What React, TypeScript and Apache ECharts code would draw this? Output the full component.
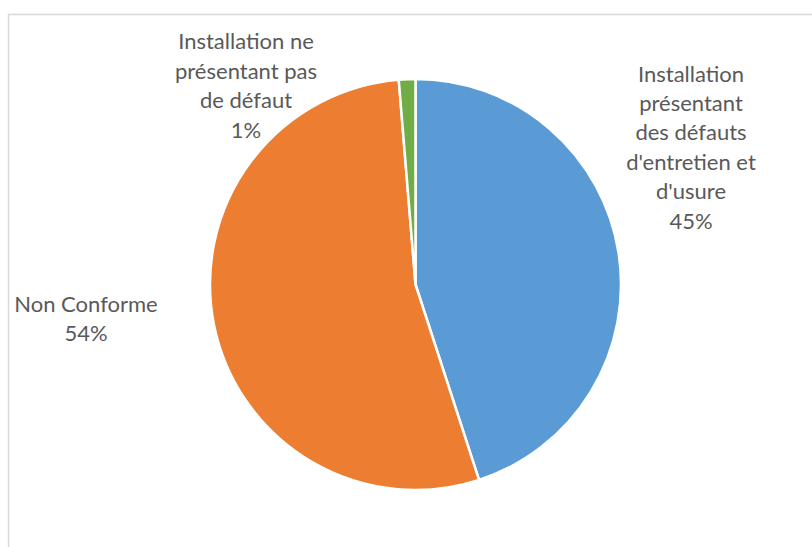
import React, { useEffect, useRef } from "react";
import * as echarts from "echarts";

const categories = [
  "Installation\nprésentant\ndes défauts\nd'entretien et\nd'usure",
  "Non Conforme",
  "Installation ne\nprésentant pas\nde défaut",
];
const values = [45, 53.7, 1.3];
const colors = ["#5B9BD5", "#ED7D31", "#70AD47"];

// label anchor (center) positions per slice
const labelPos = [
  { x: 691, y: 146.5 },
  { x: 86, y: 318 },
  { x: 246, y: 85 },
];

export default function App() {
  const ref = useRef<HTMLDivElement>(null);
  useEffect(() => {
    document.body.style.margin = "0";
    const chart = echarts.init(ref.current!, null, { renderer: "svg" });
    chart.setOption({
      animation: false,
      backgroundColor: "#ffffff",
      graphic: [
        {
          type: "rect",
          shape: { x: 8.5, y: 14.5, width: 900, height: 700 },
          style: { fill: "none", stroke: "#d9d9d9", lineWidth: 1.5 },
          silent: true,
        },
      ],
      series: [
        {
          type: "pie",
          center: [415.5, 284.5],
          radius: 205.5,
          startAngle: 90,
          clockwise: true,
          percentPrecision: 0,
          itemStyle: { borderColor: "#ffffff", borderWidth: 2.5 },
          label: {
            show: true,
            position: "outside",
            formatter: "{b}\n{d}%",
            color: "#595959",
            fontFamily: "Lato, 'Open Sans', sans-serif",
            fontSize: 22,
            lineHeight: 29.4,
            align: "center",
          },
          labelLine: { show: false },
          labelLayout: (params: any) => {
            const p = labelPos[params.dataIndex];
            return { x: p.x, y: p.y, align: "center", verticalAlign: "middle" };
          },
          data: categories.map((name, i) => ({
            name,
            value: values[i],
            itemStyle: { color: colors[i] },
          })),
        },
      ],
    });
    return () => chart.dispose();
  }, []);
  return <div ref={ref} style={{ width: 812, height: 547 }} />;
}
